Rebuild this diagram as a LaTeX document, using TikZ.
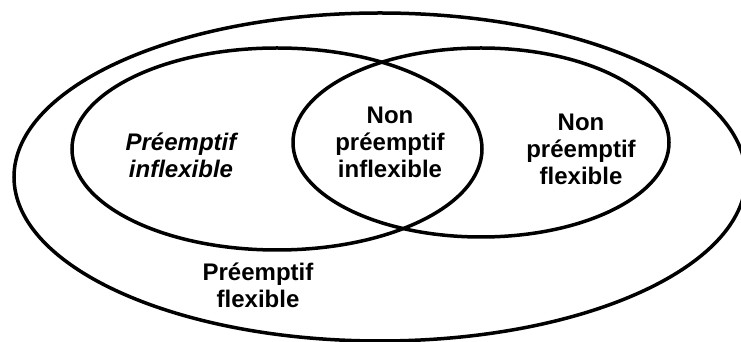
\documentclass[tikz,border=0pt]{standalone}
\usepackage{fontspec}
\setmainfont{Liberation Sans}
\begin{document}
\begin{tikzpicture}[x=1pt,y=1pt,
  setline/.style={line width=3.5pt},
  lbl/.style={font=\fontsize{24}{27}\selectfont\bfseries, align=center, anchor=base, inner sep=0pt}]
\useasboundingbox (0,0) rectangle (741,342);
\begin{scope}
\clip (0,0) rectangle (741,342);
\draw[setline] (380,165) ellipse [x radius=366, y radius=164];
\end{scope}
\draw[setline] (277,193) ellipse [x radius=205, y radius=101];
\draw[setline] (481,199.5) ellipse [x radius=188, y radius=94.5];
\node[lbl, font=\fontsize{24}{27}\selectfont\bfseries\itshape] (pi) at (181,164) {Préemptif\\inflexible};
\node[lbl] (npi) at (390,164) {Non\\préemptif\\inflexible};
\node[lbl] (npf) at (581,157) {Non\\préemptif\\flexible};
\node[lbl] (pf) at (258,34) {Préemptif\\flexible};
\end{tikzpicture}
\end{document}
